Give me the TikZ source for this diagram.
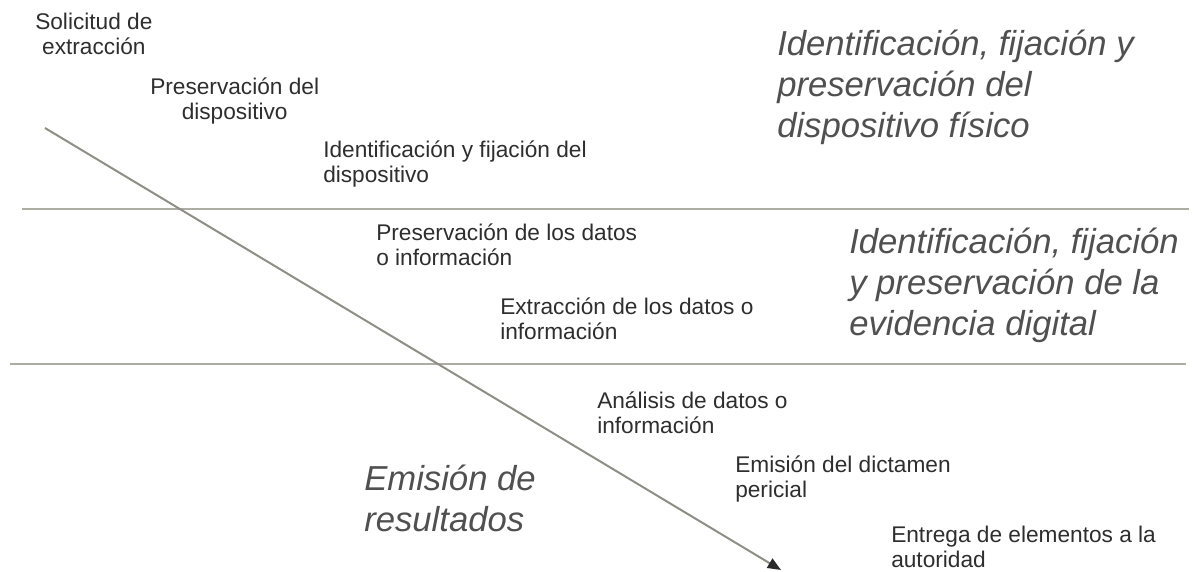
\documentclass[tikz,border=0pt]{standalone}
\usepackage{fontspec}
\setmainfont{Liberation Sans}
\usetikzlibrary{arrows.meta}
\definecolor{txt}{HTML}{2E2E2E}
\definecolor{bigtxt}{HTML}{505050}
\definecolor{rule}{HTML}{ADADA3}
\definecolor{diag}{HTML}{8E8E86}
\definecolor{tip}{HTML}{2A2A2A}
\tikzset{
  x=0.75pt, y=-0.75pt,
  steptext/.style={anchor=north west, inner sep=0pt, text=txt, font=\fontsize{17}{18.75}\selectfont},
  steptextc/.style={steptext, align=center},
  steptextl/.style={steptext, align=left},
  phasetext/.style={anchor=north west, inner sep=0pt, text=bigtxt, align=left, font=\fontsize{26}{30.75}\selectfont\itshape},
  separator/.style={draw=rule, line width=1.6pt},
  flow/.style={draw=diag, line width=1.5pt, -{Triangle[length=10pt,width=8pt,color=tip]}}
}
\begin{document}
\begin{tikzpicture}
\useasboundingbox (0,0) rectangle (1199,571);
% separators
\coordinate (s1a) at (22,209);
\coordinate (s1b) at (1189,209);
\coordinate (s2a) at (10,364);
\coordinate (s2b) at (1186,364);
\draw[separator] (s1a) -- (s1b);
\draw[separator] (s2a) -- (s2b);
% main flow arrow
\coordinate (fstart) at (45,128);
\coordinate (fend) at (781,570);
\draw[flow] (fstart) -- (fend);
% step labels
\node[steptextc] (t1) at (35,13) {Solicitud de\\extracción};
\node[steptextc] (t2) at (150,78) {Preservación del\\dispositivo};
\node[steptextl] (t3) at (323,141) {Identificación y fijación del\\dispositivo};
\node[steptextl] (t4) at (376,224) {Preservación de los datos\\o información};
\node[steptextl] (t5) at (500,298) {Extracción de los datos o\\información};
\node[steptextl] (t6) at (597,392) {Análisis de datos o\\información};
\node[steptextl] (t7) at (735,456) {Emisión del dictamen\\pericial};
\node[steptextl] (t8) at (891,526) {Entrega de elementos a la\\autoridad};
% phase labels
\node[phasetext] (p1) at (777,30) {Identificación, fijación y\\preservación del\\dispositivo físico};
\node[phasetext] (p2) at (849,228) {Identificación, fijación\\y preservación de la\\evidencia digital};
\node[phasetext] (p3) at (364,465) {Emisión de\\resultados};
\end{tikzpicture}
\end{document}
